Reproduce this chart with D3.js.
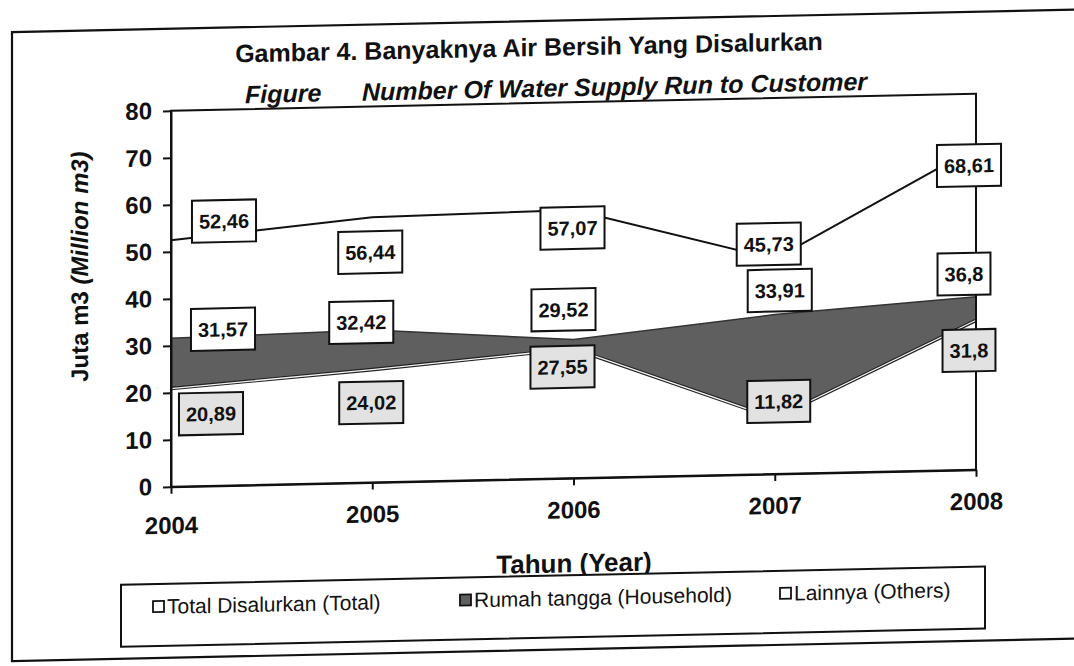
<!DOCTYPE html>
<html>
<head>
<meta charset="utf-8">
<script src="https://cdn.jsdelivr.net/npm/d3@7"></script>
<style>
  body { margin: 0; background: #fff; }
  text { font-family: "Liberation Sans", Arial, sans-serif; fill: #111; }
</style>
</head>
<body>
<script>
// values (Juta m3)
var years = ["2004", "2005", "2006", "2007", "2008"];
var total = [52.46, 56.44, 57.07, 45.73, 68.61];
var household = [31.57, 32.42, 29.52, 33.91, 36.8];
var others = [20.89, 24.02, 27.55, 11.82, 31.8];
var yTicks = [0, 10, 20, 30, 40, 50, 60, 70, 80];

// where each data label box sits relative to its point (px)
var totalNudge = [[53, -18], [-2, 35], [-1, 18], [-6, -15], [-7, 18]];
var householdNudge = [[52, -8], [-11, -8], [-10, -30], [5, -24], [-12, -23]];
var othersNudge = [[40, 26], [-1, 33], [-11, 18], [4, -17], [-7, 30]];

var width = 1074, height = 666;

var svg = d3.select("body").append("svg")
    .attr("width", width)
    .attr("height", height);

// the scan is slightly sheared, so the whole page is skewed a little
var g = svg.append("g")
    .attr("transform", "translate(0,11.34) skewY(-1.21)");

// outer frame
g.append("rect")
    .attr("x", 12).attr("y", 21)
    .attr("width", 1100).attr("height", 629)
    .attr("fill", "none").attr("stroke", "#111").attr("stroke-width", 2.2);

// titles
g.append("text")
    .attr("x", 529).attr("y", 56)
    .attr("text-anchor", "middle")
    .style("font-size", "25px").style("font-weight", "bold")
    .text("Gambar 4. Banyaknya Air Bersih Yang Disalurkan");

g.append("text")
    .attr("x", 245).attr("y", 97)
    .style("font-size", "25px").style("font-weight", "bold").style("font-style", "italic")
    .text("Figure");
g.append("text")
    .attr("x", 362).attr("y", 97)
    .style("font-size", "25px").style("font-weight", "bold").style("font-style", "italic")
    .text("Number Of Water Supply Run to Customer");

var x = d3.scalePoint().domain(years).range([171, 976]);
var y = d3.scaleLinear().domain([0, 80]).range([479, 103]);

var area = function(vals){
    return d3.area()
        .x(function(d, i){ return x(years[i]); })
        .y0(y(0))
        .y1(function(d){ return y(d); })(vals);
};
var line = function(vals){
    return d3.line()
        .x(function(d, i){ return x(years[i]); })
        .y(function(d){ return y(d); })(vals);
};

g.append("path").attr("d", area(total)).attr("fill", "#fff");
g.append("path").attr("d", line(total)).attr("fill", "none")
    .attr("stroke", "#111").attr("stroke-width", 2);

g.append("path").attr("d", area(household)).attr("fill", "#5f5f5f");
g.append("path").attr("d", line(household)).attr("fill", "none")
    .attr("stroke", "#333").attr("stroke-width", 1.5);

g.append("path").attr("d", area(others)).attr("fill", "#fff");
g.append("path").attr("d", line(others)).attr("fill", "none")
    .attr("stroke", "#222").attr("stroke-width", 3.6);
g.append("path").attr("d", line(others)).attr("fill", "none")
    .attr("stroke", "#f4f4f4").attr("stroke-width", 1.3);

// plot frame, drawn over the areas
g.append("rect")
    .attr("x", x.range()[0]).attr("y", y(80))
    .attr("width", x.range()[1] - x.range()[0]).attr("height", y(0) - y(80))
    .attr("fill", "none").attr("stroke", "#111").attr("stroke-width", 2);

// axes
var yAxis = g.append("g")
    .attr("transform", "translate(" + x.range()[0] + ",0)")
    .call(d3.axisLeft(y).tickValues(yTicks).tickSize(8).tickSizeOuter(0).tickPadding(11));
yAxis.selectAll("text")
    .style("font-size", "24px").style("font-weight", "bold").attr("fill", "#111");

var xAxis = g.append("g")
    .attr("transform", "translate(0," + y(0) + ")")
    .call(d3.axisBottom(x).tickSize(7).tickSizeOuter(0).tickPadding(16));
xAxis.selectAll("text")
    .style("font-size", "24px").style("font-weight", "bold").attr("fill", "#111");
// the first year label sits a little lower in the original
xAxis.select(".tick text").attr("y", 30);

[yAxis, xAxis].forEach(function(a){
    a.select(".domain").attr("stroke", "#111").attr("stroke-width", 2);
    a.selectAll(".tick line").attr("stroke", "#111").attr("stroke-width", 2);
});

// y title
var yt = g.append("text")
    .attr("transform", "translate(88,257) rotate(-90)")
    .attr("text-anchor", "middle")
    .style("font-size", "24px").style("font-weight", "bold");
yt.append("tspan").text("Juta m3 ");
yt.append("tspan").style("font-style", "italic").text("(Million m3)");

// x title
g.append("text")
    .attr("x", 574).attr("y", 573)
    .attr("text-anchor", "middle")
    .style("font-size", "26px").style("font-weight", "bold")
    .text("Tahun (Year)");

// data labels
function fmt(v){ return String(v).replace(".", ","); }

function drawLabels(vals, nudge, fill){
    vals.forEach(function(v, i){
        var cx = x(years[i]) + nudge[i][0];
        var cy = y(v) + nudge[i][1];
        var lg = g.append("g");
        var box = lg.append("rect");
        var t = lg.append("text")
            .attr("x", cx).attr("y", cy)
            .attr("dy", "0.36em")
            .attr("text-anchor", "middle")
            .style("font-size", "20px").style("font-weight", "bold")
            .text(fmt(v));
        var w = t.node().getComputedTextLength() + 14;
        box.attr("x", cx - w / 2).attr("y", cy - 21)
            .attr("width", w).attr("height", 42)
            .attr("fill", fill).attr("stroke", "#111").attr("stroke-width", 2);
    });
}
drawLabels(total, totalNudge, "#fff");
drawLabels(household, householdNudge, "#fff");
drawLabels(others, othersNudge, "#e2e2e2");

// legend
g.append("rect")
    .attr("x", 121).attr("y", 576)
    .attr("width", 864).attr("height", 62)
    .attr("fill", "#fff").attr("stroke", "#111").attr("stroke-width", 2);

var legendItems = [
    { name: "Total Disalurkan (Total)", fill: "#fff", sx: 153 },
    { name: "Rumah tangga (Household)", fill: "#5f5f5f", sx: 460 },
    { name: "Lainnya (Others)", fill: "#fff", sx: 780 }
];
legendItems.forEach(function(d){
    g.append("rect")
        .attr("x", d.sx).attr("y", 593)
        .attr("width", 11).attr("height", 11)
        .attr("fill", d.fill).attr("stroke", "#111").attr("stroke-width", 1.8);
    g.append("text")
        .attr("x", d.sx + 14).attr("y", 606)
        .style("font-size", "21px")
        .text(d.name);
});
</script>
</body>
</html>
